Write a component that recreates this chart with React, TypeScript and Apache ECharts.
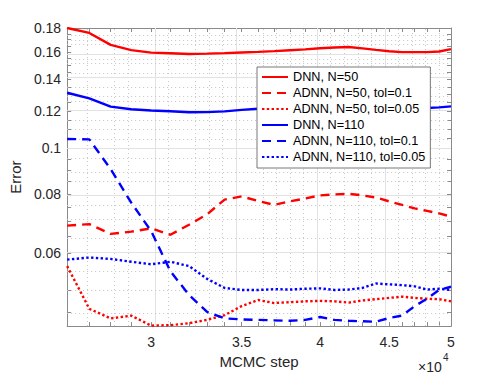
import React, { useEffect, useRef } from "react";
import * as echarts from "echarts";

// MCMC steps (x values)
const steps = [
  26000, 27000, 28000, 29000, 30000, 31000, 32000, 33000, 34000, 35000,
  36000, 37000, 38000, 39000, 40000, 41000, 42000, 43000, 44000, 45000,
  46000, 47000, 48000, 49000, 50000,
];

// Error values per series
const dnn50 = [
  0.18, 0.1757, 0.1658, 0.1616, 0.1596, 0.1591, 0.1586, 0.1588, 0.1592, 0.1597,
  0.1602, 0.1608, 0.1615, 0.1622, 0.163, 0.1636, 0.164, 0.163, 0.1618, 0.1607,
  0.16, 0.16, 0.16, 0.1605, 0.1624,
];
const adnn50tol01 = [
  0.0686, 0.0691, 0.0659, 0.0666, 0.0677, 0.0656, 0.0689, 0.0725, 0.0779, 0.0791,
  0.0774, 0.0759, 0.0772, 0.0783, 0.0795, 0.0799, 0.0801, 0.0795, 0.0787, 0.0772,
  0.0759, 0.0746, 0.0737, 0.0728, 0.0717,
];
const adnn50tol005 = [
  0.0563, 0.0457, 0.0436, 0.0442, 0.0421, 0.0422, 0.0426, 0.0433, 0.0443, 0.0463,
  0.0477, 0.047, 0.0472, 0.0474, 0.0475, 0.0474, 0.0471, 0.0476, 0.0479, 0.0482,
  0.0485, 0.0482, 0.048, 0.0479, 0.0474,
];
const dnn110 = [
  0.1312, 0.1277, 0.1226, 0.1211, 0.1203, 0.1199, 0.1193, 0.1194, 0.1198, 0.1207,
  0.1214, 0.1216, 0.1216, 0.1216, 0.1216, 0.1216, 0.1216, 0.1216, 0.1216, 0.1216,
  0.1216, 0.1217, 0.1218, 0.1222, 0.1228,
];
const adnn110tol01 = [
  0.1047, 0.1045, 0.0904, 0.0767, 0.0668, 0.0549, 0.0489, 0.045, 0.0436, 0.0434,
  0.0433, 0.0432, 0.0431, 0.0433, 0.0439, 0.0433, 0.0431, 0.043, 0.0429, 0.0437,
  0.0442, 0.0463, 0.048, 0.0501, 0.0509,
];
const adnn110tol005 = [
  0.0581, 0.0587, 0.0583, 0.0575, 0.0568, 0.0575, 0.0563, 0.0529, 0.0506, 0.0501,
  0.0501, 0.0503, 0.0502, 0.0504, 0.0505, 0.0501, 0.0502, 0.0506, 0.0517, 0.0515,
  0.0513, 0.051, 0.0502, 0.0504, 0.0501,
];

const seriesNames = [
  "DNN, N=50",
  "ADNN, N=50, tol=0.1",
  "ADNN, N=50, tol=0.05",
  "DNN, N=110",
  "ADNN, N=110, tol=0.1",
  "ADNN, N=110, tol=0.05",
];

// axis ranges and ticks
const xRange = [26000, 50000];
const yRange = [0.042, 0.18];
const xMajorTicks = [30000, 35000, 40000, 45000, 50000];
const xMinorTicks = [
  27000, 28000, 29000, 31000, 32000, 33000, 34000, 36000, 37000, 38000, 39000,
  41000, 42000, 43000, 44000, 46000, 47000, 48000, 49000,
];
const yMajorTicks = [0.06, 0.08, 0.1, 0.12, 0.14, 0.16, 0.18];
const yMinorTicks = [
  0.045, 0.05, 0.055, 0.065, 0.07, 0.075, 0.085, 0.09, 0.095, 0.105, 0.11,
  0.115, 0.125, 0.13, 0.135, 0.145, 0.15, 0.155, 0.165, 0.17, 0.175,
];

const L = (v: number) => Math.log10(v);
const FONT = "'Liberation Sans', Arial, Helvetica, sans-serif";
const RED = "#ff0000";
const BLUE = "#0000ff";
const AXIS = "#8a8a8a";
const TXT = "#262626";

export default function App() {
  const ref = useRef<HTMLDivElement>(null);

  useEffect(() => {
    if (!ref.current) return;
    const chart = echarts.init(ref.current, undefined, { renderer: "svg" });

    const pts = (ys: number[]) => steps.map((s, i) => [L(s), L(ys[i])]);
    const DASH = [9, 6];
    const DOT = [2.4, 2.4];
    const mk = (name: string, ys: number[], color: string, type: any) => ({
      name,
      type: "line",
      data: pts(ys),
      symbol: "none",
      showSymbol: false,
      z: 5,
      lineStyle: { color, width: 2.4, type },
      itemStyle: { color },
    });

    const gridData: any[] = [
      ...xMajorTicks.slice(0, -1).map((v) => ({
        xAxis: L(v),
        lineStyle: { color: "#e2e2e2", width: 1, type: "solid" },
      })),
      ...xMinorTicks.map((v) => ({
        xAxis: L(v),
        lineStyle: { color: "#c4c4c4", width: 1, type: [1, 3] },
      })),
      ...yMajorTicks.slice(0, -1).map((v) => ({
        yAxis: L(v),
        lineStyle: { color: "#e2e2e2", width: 1, type: "solid" },
      })),
      ...yMinorTicks.map((v) => ({
        yAxis: L(v),
        lineStyle: { color: "#c4c4c4", width: 1, type: [1, 3] },
      })),
    ];

    const xTicks = [...xMajorTicks, ...xMinorTicks].map(L);
    const yTicks = [...yMajorTicks, ...yMinorTicks].map(L);
    const tickLine = { color: AXIS, width: 1 };

    const xBase = {
      type: "value",
      min: L(xRange[0]),
      max: L(xRange[1]),
      axisLine: { show: true, onZero: false, lineStyle: { color: AXIS, width: 1 } },
      axisTick: { show: true, inside: true, length: 4, customValues: xTicks, lineStyle: tickLine },
      splitLine: { show: false },
    };
    const yBase = {
      type: "value",
      min: L(yRange[0]),
      max: L(yRange[1]),
      axisLine: { show: true, onZero: false, lineStyle: { color: AXIS, width: 1 } },
      axisTick: { show: true, inside: true, length: 4, customValues: yTicks, lineStyle: tickLine },
      splitLine: { show: false },
    };

    chart.setOption({
      animation: false,
      textStyle: { fontFamily: FONT },
      grid: { left: 65, right: 47, top: 28, bottom: 45, containLabel: false },
      xAxis: [
        {
          ...xBase,
          position: "bottom",
          axisLabel: {
            customValues: xMajorTicks.map(L),
            formatter: (v: number) => String(Number((Math.pow(10, v) / 1e4).toFixed(1))),
            fontSize: 14,
            color: TXT,
            fontFamily: FONT,
            margin: 9,
          },
          name: "MCMC step",
          nameLocation: "middle",
          nameGap: 27,
          nameTextStyle: { fontSize: 15, color: TXT, fontFamily: FONT },
        },
        { ...xBase, position: "top", axisLabel: { show: false } },
      ],
      yAxis: [
        {
          ...yBase,
          position: "left",
          axisLabel: {
            customValues: yMajorTicks.map(L),
            formatter: (v: number) => String(Number(Math.pow(10, v).toFixed(2))),
            fontSize: 14,
            color: TXT,
            fontFamily: FONT,
            margin: 6,
          },
          name: "Error",
          nameLocation: "middle",
          nameGap: 38,
          nameTextStyle: { fontSize: 15, color: TXT, fontFamily: FONT },
        },
        { ...yBase, position: "right", axisLabel: { show: false } },
      ],
      legend: {
        data: seriesNames,
        orient: "vertical",
        left: 257,
        top: 67,
        itemWidth: 26,
        itemHeight: 12,
        itemGap: 2,
        itemTextGap: 3,
        padding: [3, 5, 4, 4],
        backgroundColor: "#ffffff",
        borderColor: "#555555",
        borderWidth: 0.8,
        itemStyle: { opacity: 0, color: "rgba(0,0,0,0)", borderWidth: 0 },
        textStyle: { fontSize: 12.7, color: "#000000", fontFamily: FONT, lineHeight: 14 },
        z: 10,
      },
      graphic: [
        {
          type: "text",
          x: 418,
          y: 367,
          z: 10,
          style: {
            text: "×10",
            fontSize: 14,
            fontFamily: FONT,
            fill: TXT,
            textAlign: "left",
            textVerticalAlign: "middle",
          },
        },
        {
          type: "text",
          x: 443,
          y: 357,
          z: 10,
          style: {
            text: "4",
            fontSize: 10,
            fontFamily: FONT,
            fill: TXT,
            textAlign: "left",
            textVerticalAlign: "middle",
          },
        },
      ],
      series: [
        {
          name: "grid",
          type: "line",
          data: [],
          z: 1,
          silent: true,
          markLine: {
            silent: true,
            symbol: "none",
            z: 1,
            animation: false,
            label: { show: false },
            emphasis: { disabled: true },
            data: gridData,
          },
        },
        mk(seriesNames[0], dnn50, RED, "solid"),
        mk(seriesNames[1], adnn50tol01, RED, DASH),
        mk(seriesNames[2], adnn50tol005, RED, DOT),
        mk(seriesNames[3], dnn110, BLUE, "solid"),
        mk(seriesNames[4], adnn110tol01, BLUE, DASH),
        mk(seriesNames[5], adnn110tol005, BLUE, DOT),
      ],
    });

    return () => chart.dispose();
  }, []);

  return (
    <div
      ref={ref}
      style={{ position: "fixed", left: 0, top: 0, width: 498, height: 374, background: "#fff" }}
    />
  );
}
